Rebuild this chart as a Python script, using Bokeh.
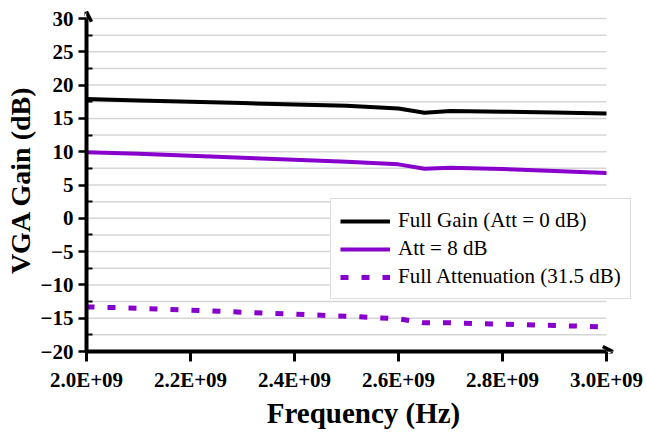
from bokeh.plotting import figure
from bokeh.models import (FixedTicker, CustomJSTickFormatter, Arrow, OpenHead,
                          Legend, LegendItem, ColumnDataSource)
from bokeh.embed import file_html
from bokeh.resources import INLINE

# ---- data ----
freq_hz = [2.0e9, 2.1e9, 2.2e9, 2.3e9, 2.4e9, 2.5e9, 2.6e9, 2.65e9, 2.7e9, 2.8e9, 2.9e9, 3.0e9]
full_gain = [17.9, 17.7, 17.5, 17.3, 17.1, 16.9, 16.5, 15.85, 16.1, 16.0, 15.9, 15.75]
att_8db = [9.9, 9.7, 9.4, 9.1, 8.8, 8.5, 8.1, 7.45, 7.6, 7.4, 7.1, 6.8]
full_att = [-13.3, -13.5, -13.8, -14.1, -14.4, -14.7, -15.1, -15.7, -15.7, -15.9, -16.1, -16.3]

x_ticks = [2.0e9, 2.2e9, 2.4e9, 2.6e9, 2.8e9, 3.0e9]
y_ticks = [-20, -15, -10, -5, 0, 5, 10, 15, 20, 25, 30]
y_minor = [-17.5, -12.5, -7.5, -2.5, 2.5, 7.5, 12.5, 17.5, 22.5, 27.5]
labels = ["Full Gain (Att = 0 dB)", "Att = 8 dB", "Full Attenuation (31.5 dB)"]

PURPLE = "#8800cc"
FONT = "Liberation Serif"

x0, x1 = x_ticks[0], x_ticks[-1]
y0, y1 = y_ticks[0], y_ticks[-1]
# frame extends a little past the data area so that arrow heads and legend fit
x_span = x1 - x0
y_span = y1 - y0

p = figure(width=647, height=432, output_backend="svg", toolbar_location=None,
           x_range=(x0, x0 + x_span * (554 / 520)), y_range=(y0, y1 + y_span * (10 / 333)),
           min_border_left=86, min_border_right=7, min_border_top=8, min_border_bottom=81)
p.outline_line_color = None
p.background_fill_color = "white"
p.border_fill_color = "white"
p.xgrid.visible = False
p.ygrid.visible = False

# grid lines limited to the data area
grid_vals = sorted(y_ticks + y_minor)
p.segment(x0=[x0] * len(grid_vals), x1=[x1] * len(grid_vals), y0=grid_vals, y1=grid_vals,
          line_color="#d6d6d6", line_width=1.5, level="underlay")

src = ColumnDataSource(dict(f=freq_hz, g=full_gain, a=att_8db, fa=full_att))
r1 = p.line("f", "g", source=src, line_color="black", line_width=4)
r2 = p.line("f", "a", source=src, line_color=PURPLE, line_width=4)
r3 = p.line("f", "fa", source=src, line_color=PURPLE, line_width=5, line_dash="8 13")

# x axis
xa = p.xaxis[0]
xa.bounds = (x0, x1)
xa.ticker = FixedTicker(ticks=x_ticks)
xa.formatter = CustomJSTickFormatter(code="return (tick/1e9).toFixed(1) + 'E+09';")
xa.axis_line_width = 4
xa.axis_line_color = "black"
xa.major_tick_out = 10
xa.major_tick_in = 0
xa.major_tick_line_width = 3
xa.minor_tick_line_color = None
xa.major_label_standoff = 6
xa.major_label_text_font = FONT
xa.major_label_text_font_style = "bold"
xa.major_label_text_font_size = "21px"
xa.major_label_text_color = "black"
xa.axis_label = "Frequency (Hz)"
xa.axis_label_text_font = FONT
xa.axis_label_text_font_style = "bold"
xa.axis_label_text_font_size = "29px"
xa.axis_label_text_color = "black"
xa.axis_label_standoff = 2

# y axis
ya = p.yaxis[0]
ya.bounds = (y0, y1)
ya.ticker = FixedTicker(ticks=y_ticks, minor_ticks=y_minor)
ya.axis_line_width = 4
ya.axis_line_color = "black"
ya.major_tick_out = 8
ya.major_tick_in = 0
ya.major_tick_line_width = 2.5
ya.minor_tick_in = 6
ya.minor_tick_out = 0
ya.minor_tick_line_width = 2
ya.major_label_standoff = 5
ya.major_label_text_font = FONT
ya.major_label_text_font_style = "bold"
ya.major_label_text_font_size = "21px"
ya.major_label_text_color = "black"
ya.axis_label = "VGA Gain (dB)"
ya.axis_label_text_font = FONT
ya.axis_label_text_font_style = "bold"
ya.axis_label_text_font_size = "28px"
ya.axis_label_text_color = "black"
ya.axis_label_standoff = 2

# arrow heads on the axes
p.add_layout(Arrow(end=OpenHead(size=10, line_width=3.5, line_color="black"),
                   x_start=x1, y_start=y0, x_end=x1 + x_span * 0.012, y_end=y0,
                   line_width=4, line_color="black"))
p.add_layout(Arrow(end=OpenHead(size=10, line_width=3.5, line_color="black"),
                   x_start=x0, y_start=y1, x_end=x0, y_end=y1 + y_span * 0.02,
                   line_width=4, line_color="black"))

legend = Legend(items=[LegendItem(label=labels[0], renderers=[r1]),
                       LegendItem(label=labels[1], renderers=[r2]),
                       LegendItem(label=labels[2], renderers=[r3])],
                location=(244, 52), orientation="vertical",
                label_text_font=FONT, label_text_font_size="21px", label_text_color="black",
                glyph_width=50, glyph_height=22, label_height=22, label_standoff=8,
                spacing=3, padding=9, margin=0,
                border_line_color="#bdbdbd", border_line_width=1,
                background_fill_color="white", background_fill_alpha=1.0)
p.add_layout(legend)

open("out.html", "w").write(file_html(p, INLINE))
